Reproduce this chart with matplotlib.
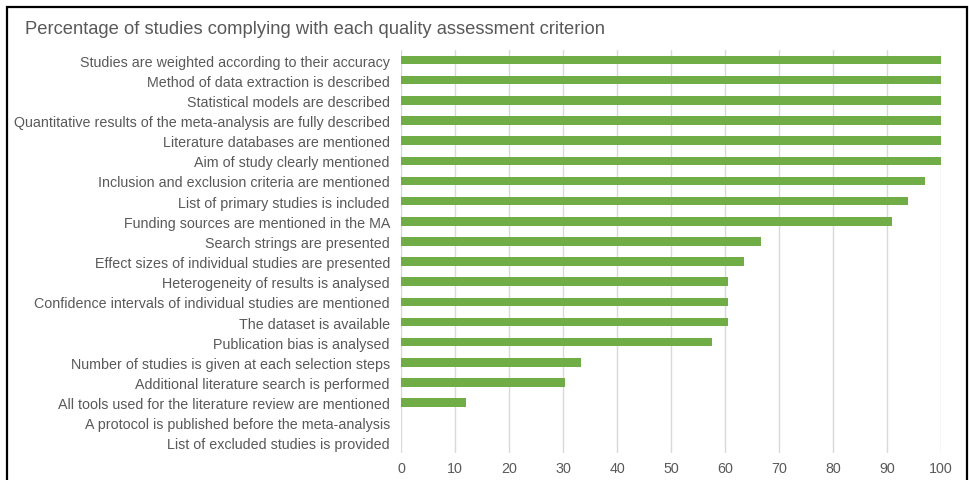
import matplotlib
matplotlib.use("Agg")
from matplotlib import pyplot as plt
from matplotlib.patches import Rectangle

plt.rcParams['font.family'] = ['Liberation Sans', 'DejaVu Sans']

TEXT_GREY = "#595959"
BAR_GREEN = "#70AD47"
GRID_GREY = "#D9D9D9"

title = "Percentage of studies complying with each quality assessment criterion"

criteria = [
    "Studies are weighted according to their accuracy",
    "Method of data extraction is described",
    "Statistical models are described",
    "Quantitative results of the meta-analysis are fully described",
    "Literature databases are mentioned",
    "Aim of study clearly mentioned",
    "Inclusion and exclusion criteria are mentioned",
    "List of primary studies is included",
    "Funding sources are mentioned in the MA",
    "Search strings are presented",
    "Effect sizes of individual studies are presented",
    "Heterogeneity of results is analysed",
    "Confidence intervals of individual studies are mentioned",
    "The dataset is available",
    "Publication bias is analysed",
    "Number of studies is given at each selection steps",
    "Additional literature search is performed",
    "All tools used for the literature review are mentioned",
    "A protocol is published before the meta-analysis",
    "List of excluded studies is provided",
]

percent = [100, 100, 100, 100, 100, 100, 97.0, 93.9, 90.9, 66.7,
           63.6, 60.6, 60.6, 60.6, 57.6, 33.3, 30.3, 12.1, 0, 0]

xticks = list(range(0, 101, 10))


def main():
    fig = plt.figure(figsize=(9.7, 4.81), dpi=100)
    ax = fig.add_axes([401 / 970, 1 - 454 / 481, 540 / 970, 403 / 481])

    ypos = list(range(len(criteria)))
    ax.barh(ypos, percent, height=0.42, color=BAR_GREEN, zorder=3)

    ax.set_ylim(len(criteria) - 0.5, -0.5)
    ax.set_xlim(0, 100)
    ax.set_yticks(ypos)
    ax.set_yticklabels(criteria, fontsize=10.3, color=TEXT_GREY)
    ax.set_xticks(xticks)
    ax.set_xticklabels([str(t) for t in xticks], fontsize=10.3, color=TEXT_GREY)
    ax.tick_params(axis="both", length=0)
    ax.tick_params(axis="y", pad=8)
    ax.tick_params(axis="x", pad=6)

    ax.grid(axis="x", color=GRID_GREY, linewidth=1, zorder=0)
    for side in ax.spines.values():
        side.set_visible(False)

    fig.text(25 / 970, 1 - 30 / 481, title, fontsize=13.2, color=TEXT_GREY,
             ha="left", va="center")

    # black frame round the chart, bottom edge cut off like in the source
    fig.patches.append(Rectangle((7 / 970, -0.05), 960 / 970, 1.05 - 8 / 481,
                                 transform=fig.transFigure, fill=False,
                                 edgecolor="black", linewidth=1.6))

    fig.savefig("out.png", dpi=100)


if __name__ == "__main__":
    main()
